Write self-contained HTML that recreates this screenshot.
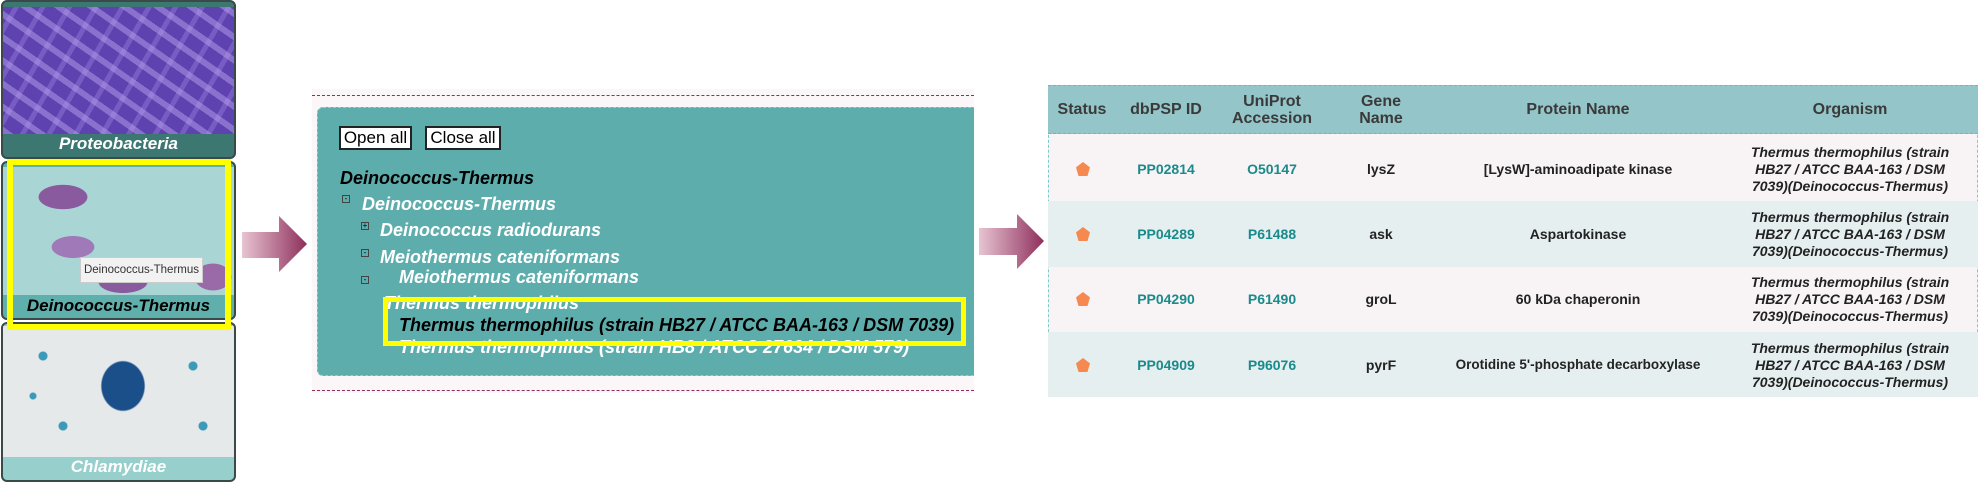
<!DOCTYPE html>
<html><head><meta charset="utf-8"><style>
*{margin:0;padding:0;box-sizing:border-box}
body{width:1978px;height:483px;background:#fff;position:relative;overflow:hidden;font-family:"Liberation Sans",Arial,sans-serif}
.a{position:absolute}
.tile{position:absolute;left:1px;width:235px;border:2px solid #3a4a48;border-radius:6px;overflow:hidden}
.lbl{position:absolute;left:0;right:0;bottom:0;text-align:center;font-weight:bold;font-style:italic;font-size:17px}
.tr{position:absolute;left:1px;font-weight:bold;font-style:italic;font-size:18px;color:#fff;white-space:nowrap}
.col{position:absolute;text-align:center;white-space:nowrap}
.hd{font-weight:bold;font-size:16px;color:#3a3a3a;line-height:17px}
.id{font-weight:bold;font-size:14px;color:#1a8a8a}
.tx{font-weight:bold;font-size:14px;color:#222}
.org{font-weight:bold;font-style:italic;font-size:14px;color:#222;line-height:17px}
.pent{position:absolute;width:14px;height:14px;background:#f5894f;clip-path:polygon(50% 0,100% 38%,82% 100%,18% 100%,0 38%)}
</style></head><body>

<!-- left tiles -->
<div class="tile" style="top:0;height:159px;background:#3d7772">
  <div class="a" style="left:0;top:5px;width:235px;height:127px;background:
   repeating-linear-gradient(35deg,rgba(190,170,240,.45) 0 6px,transparent 6px 19px),
   repeating-linear-gradient(-60deg,rgba(160,130,225,.4) 0 5px,transparent 5px 23px),
   #5d42b0"></div>
  <div class="lbl" style="height:26px;line-height:26px;color:#fff">Proteobacteria</div>
</div>
<div class="tile" style="top:161px;height:159px;background:#5fb0ac">
  <div class="a" style="left:0;top:4px;width:235px;height:128px;background:
   radial-gradient(ellipse 40px 20px at 60px 30px,#8a5a9e 60%,transparent 62%),
   radial-gradient(ellipse 35px 18px at 70px 80px,#a07ab8 60%,transparent 62%),
   radial-gradient(ellipse 30px 22px at 210px 110px,#9a6aa8 60%,transparent 62%),
   radial-gradient(ellipse 40px 18px at 120px 115px,#8a5a9e 60%,transparent 62%),
   #a9d6d5"></div>
  <div class="a" style="left:77px;top:94px;width:123px;height:26px;background:#f2f2f2;border:1px solid #ccc;font-size:11.5px;line-height:24px;text-align:center;color:#333;white-space:nowrap">Deinococcus-Thermus</div>
  <div class="lbl" style="height:25px;line-height:25px;color:#000">Deinococcus-Thermus</div>
</div>
<div class="tile" style="top:322px;height:160px;background:#96cfcc">
  <div class="a" style="left:0;top:2px;width:235px;height:131px;background:
   radial-gradient(ellipse 35px 40px at 120px 60px,#1a4f8a 60%,transparent 64%),
   radial-gradient(circle at 40px 30px,#3a9ab8 4px,transparent 5px),
   radial-gradient(circle at 190px 40px,#3a9ab8 4px,transparent 5px),
   radial-gradient(circle at 60px 100px,#3a9ab8 4px,transparent 5px),
   radial-gradient(circle at 200px 100px,#3a9ab8 4px,transparent 5px),
   radial-gradient(circle at 30px 70px,#3a9ab8 3px,transparent 4px),
   #e6e9ea"></div>
  <div class="lbl" style="height:26px;line-height:26px;color:#fff">Chlamydiae</div>
</div>
<div class="a" style="left:7px;top:159px;width:224px;height:171px;border:6px solid #ffff00"></div>

<!-- arrows -->
<svg class="a" style="left:240px;top:212px" width="72" height="64">
<defs><linearGradient id="g" x1="0" x2="1"><stop offset="0" stop-color="#e8c4d2"/><stop offset="1" stop-color="#8e2f5c"/></linearGradient></defs>
<polygon points="2,20 39,20 39,4 67,32 39,60 39,46 2,46" fill="url(#g)"/></svg>
<svg class="a" style="left:977px;top:211px" width="72" height="64">
<polygon points="2,17 40,17 40,3 67,30 40,58 40,44 2,44" fill="url(#g)"/></svg>

<!-- middle panel -->
<div class="a" style="left:312px;top:89px;width:662px;height:304px;background:#fbf6f8"></div>
<div class="a" style="left:312px;top:95px;width:662px;border-top:1px dashed #8e2f5c"></div>
<div class="a" style="left:312px;top:390px;width:662px;border-top:1px dashed #8e2f5c"></div>
<div class="a" style="left:317px;top:107px;width:657px;height:269px;background:#5eadad;border:1px dashed #9cc;border-right:none;border-radius:6px 0 0 6px;overflow:hidden">
  <div class="a" style="left:21px;top:18px;width:73px;height:24px;background:#fff;border:2px solid #222;font-size:17px;line-height:20px;text-align:center">Open all</div>
  <div class="a" style="left:107px;top:18px;width:76px;height:24px;background:#fff;border:2px solid #222;font-size:17px;line-height:20px;text-align:center">Close all</div>
  <div class="tr" style="left:22px;top:60px;color:#000">Deinococcus-Thermus</div>
  <div class="a" style="left:24px;top:87px;width:8px;height:8px;border:1px solid #444;font-size:8px;line-height:5px;text-align:center">-</div>
  <div class="tr" style="left:44px;top:86px">Deinococcus-Thermus</div>
  <div class="a" style="left:43px;top:114px;width:8px;height:8px;border:1px solid #444;font-size:8px;line-height:6px;text-align:center">+</div>
  <div class="tr" style="left:62px;top:112px">Deinococcus radiodurans</div>
  <div class="a" style="left:43px;top:141px;width:8px;height:8px;border:1px solid #444;font-size:8px;line-height:5px;text-align:center">-</div>
  <div class="tr" style="left:62px;top:139px">Meiothermus cateniformans</div>
  <div class="tr" style="left:81px;top:159px">Meiothermus cateniformans</div>
  <div class="a" style="left:43px;top:168px;width:8px;height:8px;border:1px solid #444;font-size:8px;line-height:5px;text-align:center">-</div>
  <div class="tr" style="left:66px;top:185px">Thermus thermophilus</div>
  <div class="tr" style="left:81px;top:229px">Thermus thermophilus (strain HB8 / ATCC 27634 / DSM 579)</div>
  <div class="tr" style="left:81px;top:207px;color:#000">Thermus thermophilus (strain HB27 / ATCC BAA-163 / DSM 7039)</div>
</div>
<div class="a" style="left:383px;top:297px;width:583px;height:49px;border:5px solid #ffff00"></div>

<!-- table -->
<div class="a" style="left:1048px;top:85px;width:930px;height:312px;border-left:1px dashed #7cc;border-right:1px dashed #7cc;background:#f8f4f6"></div>
<div class="a" style="left:1048px;top:85px;width:930px;height:49px;background:#94c5c8;border-top:1px dashed #6bb;border-bottom:1px dashed #6bb"></div>
<div class="a" style="left:1048px;top:201px;width:930px;height:66px;background:#e6eff0"></div>
<div class="a" style="left:1048px;top:332px;width:930px;height:65px;background:#e6eff0"></div>

<div class="col hd" style="left:1052px;width:60px;top:101px">Status</div>
<div class="col hd" style="left:1126px;width:80px;top:101px">dbPSP ID</div>
<div class="col hd" style="left:1222px;width:100px;top:93px">UniProt<br>Accession</div>
<div class="col hd" style="left:1341px;width:80px;top:93px">Gene<br>Name</div>
<div class="col hd" style="left:1478px;width:200px;top:101px">Protein Name</div>
<div class="col hd" style="left:1750px;width:200px;top:101px">Organism</div>

<div class="pent" style="left:1076px;top:162px"></div>
<div class="pent" style="left:1076px;top:227px"></div>
<div class="pent" style="left:1076px;top:292px"></div>
<div class="pent" style="left:1076px;top:358px"></div>

<div class="col id" style="left:1116px;width:100px;top:161px">PP02814</div>
<div class="col id" style="left:1116px;width:100px;top:226px">PP04289</div>
<div class="col id" style="left:1116px;width:100px;top:291px">PP04290</div>
<div class="col id" style="left:1116px;width:100px;top:357px">PP04909</div>

<div class="col id" style="left:1222px;width:100px;top:161px">O50147</div>
<div class="col id" style="left:1222px;width:100px;top:226px">P61488</div>
<div class="col id" style="left:1222px;width:100px;top:291px">P61490</div>
<div class="col id" style="left:1222px;width:100px;top:357px">P96076</div>

<div class="col tx" style="left:1341px;width:80px;top:161px">lysZ</div>
<div class="col tx" style="left:1341px;width:80px;top:226px">ask</div>
<div class="col tx" style="left:1341px;width:80px;top:291px">groL</div>
<div class="col tx" style="left:1341px;width:80px;top:357px">pyrF</div>

<div class="col tx" style="left:1438px;width:280px;top:161px">[LysW]-aminoadipate kinase</div>
<div class="col tx" style="left:1438px;width:280px;top:226px">Aspartokinase</div>
<div class="col tx" style="left:1438px;width:280px;top:291px">60 kDa chaperonin</div>
<div class="col tx" style="left:1438px;width:280px;top:357px;font-size:13.5px">Orotidine 5'-phosphate decarboxylase</div>

<div class="col org" style="left:1735px;width:230px;top:144px">Thermus thermophilus (strain<br>HB27 / ATCC BAA-163 / DSM<br>7039)(Deinococcus-Thermus)</div>
<div class="col org" style="left:1735px;width:230px;top:209px">Thermus thermophilus (strain<br>HB27 / ATCC BAA-163 / DSM<br>7039)(Deinococcus-Thermus)</div>
<div class="col org" style="left:1735px;width:230px;top:274px">Thermus thermophilus (strain<br>HB27 / ATCC BAA-163 / DSM<br>7039)(Deinococcus-Thermus)</div>
<div class="col org" style="left:1735px;width:230px;top:340px">Thermus thermophilus (strain<br>HB27 / ATCC BAA-163 / DSM<br>7039)(Deinococcus-Thermus)</div>
</body></html>
